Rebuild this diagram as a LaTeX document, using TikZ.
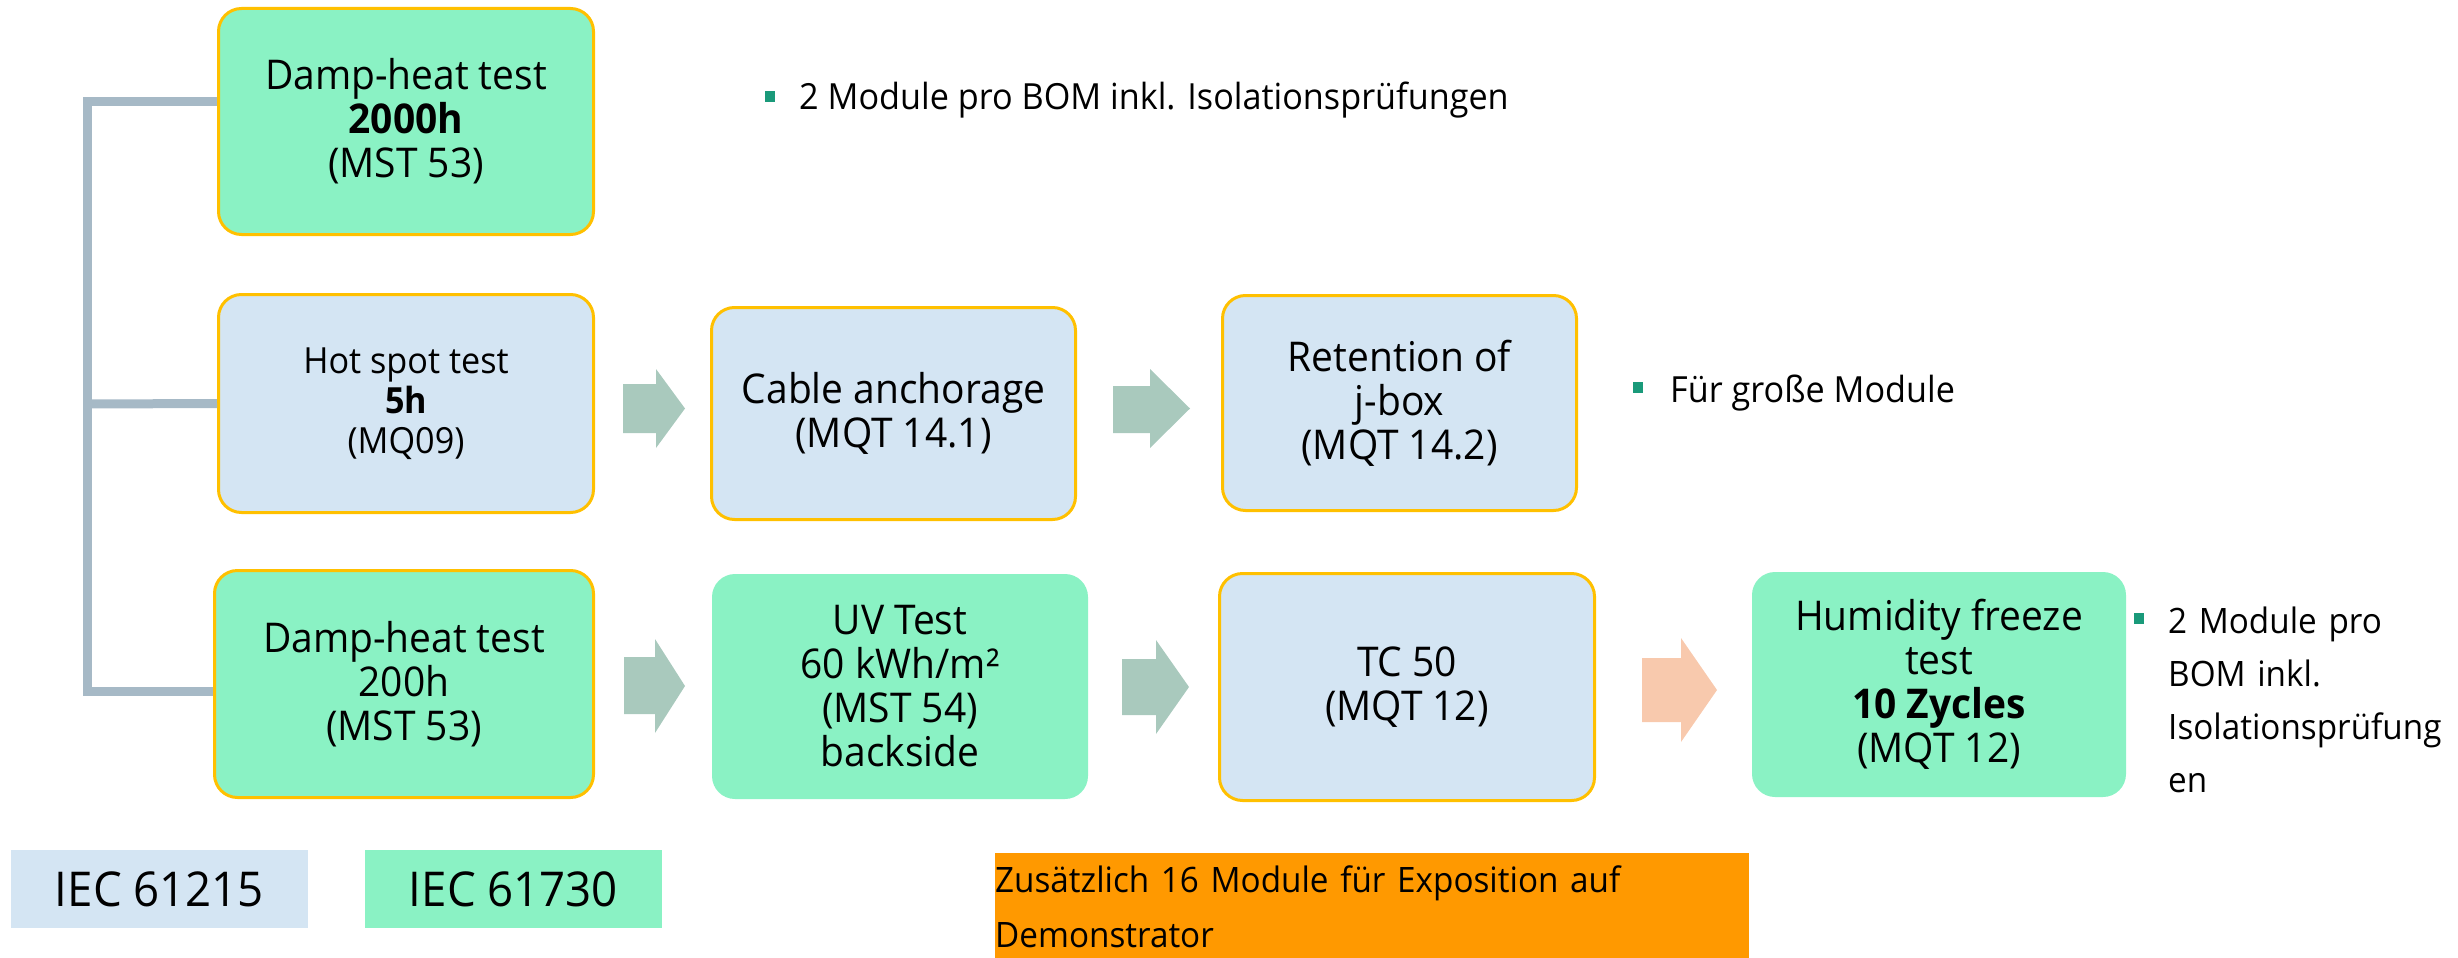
\documentclass[tikz,border=0pt]{standalone}
\usepackage{fontspec}
\setmainfont{Open Sans}[FakeStretch=0.95]
\definecolor{grn}{HTML}{8AF2C4}
\definecolor{lblue}{HTML}{D4E5F3}
\definecolor{obord}{HTML}{FFC000}
\definecolor{arr}{HTML}{A9C9BD}
\definecolor{peach}{HTML}{F8C9AD}
\definecolor{orng}{HTML}{FF9900}
\definecolor{brk}{HTML}{A6B9C6}
\definecolor{bul}{HTML}{1A9A7A}
\begin{document}
\begin{tikzpicture}[x=1pt,y=-1pt,
  box/.style={rounded corners=23pt, align=center, inner sep=0pt, font=\fontsize{41}{44}\selectfont},
  bordered/.style={draw=obord, line width=3pt},
  gbox/.style={box, fill=grn},
  bbox/.style={box, fill=lblue},
  blockarr/.style={fill=arr},
  peacharr/.style={fill=peach},
  bracket/.style={draw=brk, line width=9pt, line join=miter},
  bulletsq/.style={fill=bul, minimum width=10pt, minimum height=11pt, inner sep=0pt},
  note/.style={anchor=base west, inner sep=0pt, font=\fontsize{36}{43}\selectfont},
  iec/.style={minimum width=297pt, minimum height=78pt, inner sep=0pt, font=\fontsize{48}{56}\selectfont}
]
\useasboundingbox (0,0) rectangle (2458,958);

% boxes
\node[gbox, bordered, minimum width=375pt, minimum height=226pt] (b1) at (406,121.5)
  {Damp-heat test\\\textbf{2000h}\\(MST 53)};
\node[bbox, bordered, minimum width=375pt, minimum height=218pt, font=\fontsize{36}{40}\selectfont] (b2) at (406,403.5)
  {Hot spot test\\\textbf{5h}\\(MQ09)};
\node[bbox, bordered, minimum width=364pt, minimum height=212pt] (b2b) at (893.5,413.5)
  {Cable anchorage\\(MQT 14.1)};
\node[bbox, bordered, minimum width=354pt, minimum height=215pt] (b2c) at (1399.5,403)
  {Retention of\\j-box\\(MQT 14.2)};
\node[gbox, bordered, minimum width=379pt, minimum height=227pt] (b3) at (404,684)
  {Damp-heat test\\200h\\(MST 53)};
\node[gbox, minimum width=376pt, minimum height=225pt] (b3b) at (900,686.5)
  {UV Test\\60 kWh/m²\\(MST 54)\\backside};
\node[bbox, bordered, minimum width=375pt, minimum height=227pt] (b3c) at (1407,687)
  {TC 50\\(MQT 12)};
\node[gbox, minimum width=374pt, minimum height=225pt] (b3d) at (1939,684.5)
  {Humidity freeze\\test\\\textbf{10 Zycles}\\(MQT 12)};

% bracket
\draw[bracket] (b1.west |- 0,101) -- (87,101) -- (87,691) -- (b3.west |- 0,691);
\draw[bracket] (87,404) -- (b2.west);

% block arrows
\fill[blockarr] (623,384) -- (656,384) -- (656,369) -- (685,408.5) -- (656,448) -- (656,433) -- (623,433) -- cycle;
\fill[blockarr] (1113,386) -- (1150,386) -- (1150,369) -- (1190,408.5) -- (1150,448) -- (1150,433) -- (1113,433) -- cycle;
\fill[blockarr] (624,657) -- (655,657) -- (655,639) -- (685,686) -- (655,733) -- (655,714) -- (624,714) -- cycle;
\fill[blockarr] (1122,659) -- (1156,659) -- (1156,640) -- (1189,687) -- (1156,734) -- (1156,715) -- (1122,715) -- cycle;
\fill[peacharr] (1642,658) -- (1681,658) -- (1681,638) -- (1717,690) -- (1681,742) -- (1681,722) -- (1642,722) -- cycle;

% notes
\node[bulletsq] (bu1) at (770,96.5) {};
\node[note] (t1) at (799,109) {2 Module pro BOM inkl. Isolationsprüfungen};
\node[bulletsq] (bu2) at (1638,387.5) {};
\node[note] (t2) at (1670,402) {Für große Module};
\node[bulletsq] (bu3) at (2139,618.5) {};
\node[note, text width=290pt, align=left, font=\fontsize{35}{53}\selectfont] (t3) at (2168,633)
  {2 Module pro\\BOM inkl.\\Isolationsprüfung\\en};

% legend
\node[iec, fill=lblue] (l1) at (159.5,889) {IEC 61215};
\node[iec, fill=grn] (l2) at (513.5,889) {IEC 61730};

% orange box
\node[fill=orng, anchor=north west, minimum width=754pt, minimum height=105pt, inner sep=0pt] (ob) at (995,853) {};
\node[anchor=base west, inner sep=0pt, text width=754pt, align=left, font=\fontsize{35}{55}\selectfont] (obt) at (995,892)
  {Zusätzlich 16 Module für Exposition auf\\Demonstrator};
\end{tikzpicture}
\end{document}
